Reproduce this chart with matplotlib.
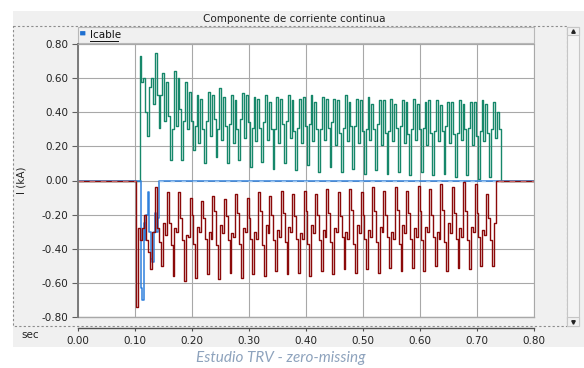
import numpy as np
import matplotlib.pyplot as plt
from matplotlib.patches import Rectangle, FancyBboxPatch

# sampling of the traces (s)
step = 0.02 / 6
green_start = 0.108
red_start = 0.1025
blue_start = 0.110
blue_step = 0.0025

# green trace, one entry per 20 ms cycle (kA)
green_p1 = [0.73, 0.60, 0.63, 0.64, 0.58, 0.50, 0.52, 0.54, 0.50, 0.51, 0.49,
            0.50, 0.49, 0.50, 0.48, 0.50, 0.49, 0.48, 0.50, 0.48, 0.49, 0.47,
            0.48, 0.47, 0.48, 0.46, 0.47, 0.46, 0.47, 0.46, 0.47]
green_mid = [0.58, 0.45, 0.35, 0.32, 0.30, 0.22, 0.26, 0.24, 0.22, 0.25, 0.23,
             0.24, 0.22, 0.25, 0.22, 0.23, 0.24, 0.21, 0.23, 0.22, 0.24, 0.21,
             0.23, 0.22, 0.24, 0.21, 0.23, 0.22, 0.24, 0.21, 0.23]
green_p2 = [0.60, 0.75, 0.58, 0.60, 0.52, 0.48, 0.50, 0.49, 0.47, 0.50, 0.48,
            0.46, 0.48, 0.47, 0.49, 0.46, 0.48, 0.47, 0.46, 0.47, 0.45, 0.47,
            0.45, 0.46, 0.45, 0.47, 0.44, 0.46, 0.45, 0.46, 0.45]
green_fall = [0.40, 0.50, 0.38, 0.42, 0.35, 0.30, 0.36, 0.32, 0.30, 0.34, 0.31,
              0.30, 0.33, 0.29, 0.32, 0.30, 0.31, 0.28, 0.32, 0.29, 0.30, 0.28,
              0.31, 0.27, 0.30, 0.28, 0.29, 0.27, 0.30, 0.26, 0.28]
green_low = [0.26, 0.31, 0.12, 0.12, 0.18, 0.10, 0.14, 0.10, 0.12, 0.08, 0.11,
             0.07, 0.10, 0.06, 0.09, 0.05, 0.08, 0.05, 0.07, 0.04, 0.06, 0.04,
             0.05, 0.03, 0.05, 0.03, 0.04, 0.02, 0.03, 0.01, 0.02]
green_rise = [0.55, 0.50, 0.30, 0.35, 0.32, 0.35, 0.30, 0.33, 0.36, 0.31, 0.34,
              0.30, 0.35, 0.31, 0.33, 0.30, 0.34, 0.31, 0.32, 0.30, 0.33, 0.29,
              0.32, 0.30, 0.31, 0.29, 0.32, 0.28, 0.31, 0.29, 0.30]
green_tail = [0.46, 0.25, 0.40, 0.30]

# red trace: initial spike, then per cycle values
red_head = [-0.74, -0.28, -0.35]
red_mid1 = [-0.28, -0.30, -0.32, -0.30, -0.33, -0.30, -0.34, -0.31, -0.33, -0.30,
            -0.34, -0.31, -0.33, -0.30, -0.34, -0.31, -0.33, -0.30, -0.34, -0.31,
            -0.33, -0.30, -0.34, -0.31, -0.33, -0.30, -0.34, -0.31, -0.33, -0.30]
red_top = [-0.20, -0.04, -0.07, -0.07, -0.10, -0.12, -0.09, -0.11, -0.08, -0.10,
           -0.07, -0.09, -0.06, -0.08, -0.06, -0.08, -0.05, -0.07, -0.05, -0.07,
           -0.04, -0.06, -0.04, -0.06, -0.03, -0.05, -0.02, -0.04, -0.01, -0.02]
red_mid2 = [-0.35, -0.28, -0.25, -0.22, -0.20, -0.22, -0.18, -0.21, -0.19, -0.22,
            -0.18, -0.20, -0.19, -0.21, -0.18, -0.20, -0.19, -0.21, -0.17, -0.20,
            -0.18, -0.20, -0.17, -0.19, -0.18, -0.20, -0.17, -0.19, -0.18, -0.19]
red_fall = [-0.42, -0.36, -0.38, -0.35, -0.37, -0.34, -0.38, -0.35, -0.37, -0.34,
            -0.38, -0.35, -0.36, -0.34, -0.37, -0.35, -0.36, -0.33, -0.37, -0.34,
            -0.36, -0.33, -0.37, -0.34, -0.35, -0.33, -0.36, -0.34, -0.35, -0.33]
red_trough = [-0.52, -0.50, -0.56, -0.59, -0.57, -0.55, -0.58, -0.54, -0.57, -0.55,
              -0.56, -0.53, -0.55, -0.54, -0.56, -0.53, -0.55, -0.52, -0.54, -0.52,
              -0.54, -0.51, -0.53, -0.51, -0.53, -0.50, -0.53, -0.51, -0.52, -0.50]
red_rise = [-0.30, -0.25, -0.28, -0.32, -0.27, -0.30, -0.26, -0.31, -0.28, -0.30,
            -0.26, -0.29, -0.27, -0.31, -0.26, -0.29, -0.28, -0.30, -0.26, -0.29,
            -0.27, -0.30, -0.26, -0.28, -0.27, -0.30, -0.25, -0.28, -0.27, -0.29]
red_tail = [-0.32, -0.08, -0.22, -0.35, -0.50, -0.25]

# blue trace (2.5 ms samples)
blue_vals = [-0.63, -0.70, -0.25, -0.35, -0.20, -0.07, -0.30, -0.46, -0.48,
             -0.30, -0.19, -0.30, -0.22]

x_ticks = [0.00, 0.10, 0.20, 0.30, 0.40, 0.50, 0.60, 0.70, 0.80]
y_ticks = [-0.80, -0.60, -0.40, -0.20, 0.00, 0.20, 0.40, 0.60, 0.80]


def build(start, dt, vals):
    t = start + dt * np.arange(len(vals) + 1)
    t = np.concatenate([[0.0], t, [0.8]])
    v = np.concatenate([[0.0], vals, [0.0, 0.0]])
    return t, v


green_vals = list(np.column_stack([green_p1, green_mid, green_p2, green_fall,
                                   green_low, green_rise]).ravel()) + green_tail
red_vals = red_head + list(np.column_stack([red_mid1, red_top, red_mid2, red_fall,
                                            red_trough, red_rise]).ravel()) + red_tail

fig = plt.figure(figsize=(5.84, 3.68), dpi=100, facecolor='white')

# pixel space for the window frame
bg = fig.add_axes([0, 0, 1, 1], zorder=0)
bg.set_xlim(0, 584)
bg.set_ylim(368, 0)
bg.axis('off')
bg.add_patch(Rectangle((13, 11), 571, 336, fc='#f0f0f0', ec='none'))
bg.add_patch(Rectangle((13, 26), 554, 300, fc='none', ec='#8c8c8c', lw=0.8, ls=(0, (2, 2))))
bg.add_patch(Rectangle((78, 27), 456, 16, fc='#f0f0f0', ec='#b8b8b8', lw=0.8))
bg.add_patch(FancyBboxPatch((80.5, 31.5), 4.5, 3.5, boxstyle='round,pad=0.4',
                            fc='#1e6fd0', ec='none'))
bg.text(90, 35.5, 'Icable', fontsize=7.5, va='center', ha='left', color='#111111')
bg.plot([90, 118], [41, 41], color='#111111', lw=0.7)
bg.text(294, 19, 'Componente de corriente continua', fontsize=7.5, ha='center',
        va='center', color='#222222')
# scrollbar
bg.add_patch(Rectangle((567, 27), 12, 299, fc='#f4f4f4', ec='#c6c6c6', lw=0.8))
bg.add_patch(Rectangle((567, 27), 12, 8, fc='#f0f0f0', ec='#c6c6c6', lw=0.8))
bg.add_patch(Rectangle((567, 317), 12, 9, fc='#f0f0f0', ec='#c6c6c6', lw=0.8))
bg.plot([573], [31], marker='^', ms=2.5, color='#222222')
bg.plot([573], [321.5], marker='v', ms=2.5, color='#222222')
bg.text(22, 180, 'I (kA)', rotation=90, fontsize=7.5, ha='center', va='center', color='#222222')
bg.text(30, 335, 'sec', fontsize=7.5, ha='center', va='center', color='#222222')
bg.text(281, 358, 'Estudio TRV - zero-missing', fontsize=11, fontstyle='italic',
        family='Lato', ha='center', va='center', color='#8ea3bd')

ax = fig.add_axes([78 / 584, (368 - 317) / 368, (534 - 78) / 584, (317 - 44) / 368], zorder=1)
ax.set_facecolor('white')

t, v = build(green_start, step, green_vals)
ax.plot(t, v, drawstyle='steps-post', color='#16876a', lw=1.0)
t, v = build(blue_start, blue_step, blue_vals)
ax.plot(t, v, drawstyle='steps-post', color='#2f80dc', lw=1.1)
# dashed look of the overlapping zero levels in the original
ax.plot([blue_start + blue_step * len(blue_vals), 0.74], [0, 0], color='#9cc6f0',
        lw=1.0, ls=(0, (3, 5)))
t, v = build(red_start, step, red_vals)
ax.plot(t, v, drawstyle='steps-post', color='#8b0a0a', lw=1.0)
ax.plot([0, red_start], [0, 0], color='#c86464', lw=1.0, ls=(0, (4, 4)))
ax.plot([0.736, 0.8], [0, 0], color='#c86464', lw=1.0, ls=(0, (4, 4)))

ax.set_xlim(0, 0.8)
ax.set_ylim(-0.8, 0.8)
ax.set_xticks(x_ticks)
ax.set_yticks(y_ticks)
ax.set_xticklabels(['%.2f' % x for x in x_ticks])
ax.set_yticklabels(['%.2f' % y for y in y_ticks])
ax.grid(True, color='#a8a8a8', lw=0.8)
ax.set_axisbelow(True)
ax.axhline(-0.8, color='#a8a8a8', lw=1.0, clip_on=False, zorder=0)

for s in ('top', 'right'):
    ax.spines[s].set_color('#a8a8a8')
    ax.spines[s].set_linewidth(0.8)
ax.spines['left'].set_color('#7a7a7a')
ax.spines['left'].set_linewidth(1.4)
ax.spines['bottom'].set_position(('outward', 8))
ax.spines['bottom'].set_color('#505050')
ax.spines['bottom'].set_linewidth(1.0)

ax.tick_params(axis='y', length=4, width=0.8, color='#606060', pad=3,
               labelsize=7.5, labelcolor='#222222')
ax.tick_params(axis='x', length=2.5, width=0.8, color='#505050', pad=3,
               labelsize=7.5, labelcolor='#222222')

fig.savefig('out.png', dpi=100)
